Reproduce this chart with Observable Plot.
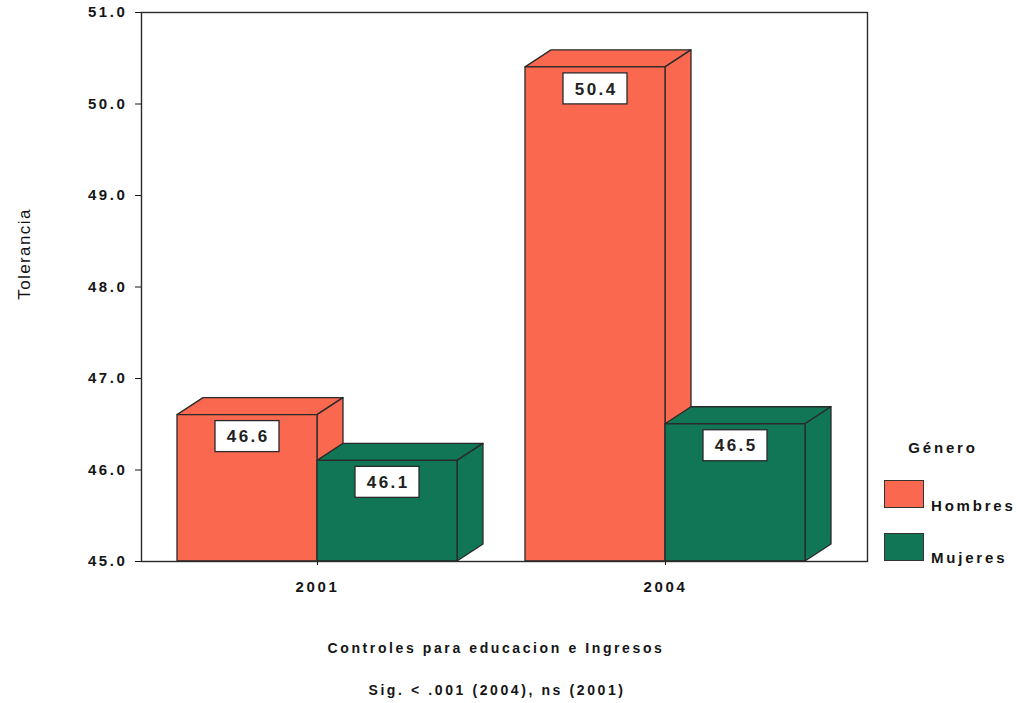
<!DOCTYPE html>
<html><head><meta charset="utf-8">
<script src="https://cdn.jsdelivr.net/npm/d3@7"></script>
<script src="https://cdn.jsdelivr.net/npm/@observablehq/plot@0.6"></script>
<style>
body{margin:0;background:#fff;font-family:"Liberation Sans",Arial,sans-serif;}
#wrap{position:relative;width:1016px;height:703px;overflow:hidden;}
#wrap svg{display:block;}
.abs{position:absolute;white-space:nowrap;color:#151515;}
.cap{font-weight:bold;font-size:14px;letter-spacing:2.6px;transform:translate(-50%,-50%);}
.ytitle{font-size:17px;letter-spacing:1.4px;color:#111;transform:translate(-50%,-50%) rotate(-90deg);}
.leg{font-weight:bold;font-size:15px;letter-spacing:2.8px;}
.sw{position:absolute;width:40px;height:28px;box-sizing:border-box;border:1.3px solid #333;}
</style>
</head><body><div id="wrap"></div>
<script>
const years = ["2001", "2004"];
const genders = ["Hombres", "Mujeres"];
const hombres = [46.6, 50.4];
const mujeres = [46.1, 46.5];
const yTicks = [45, 46, 47, 48, 49, 50, 51];
const colors = ["#f9684f", "#107656"];
const yTitle = "Tolerancia";
const legendTitle = "Género";
const captions = ["Controles para educacion e Ingresos", "Sig. < .001 (2004), ns (2001)"];

const rows = [];
years.forEach((yr, i) => {
  rows.push({year: yr, gender: genders[0], value: hombres[i]});
  rows.push({year: yr, gender: genders[1], value: mujeres[i]});
});
const yBase = yTicks[0];

function bars3d(index, scales, values, dimensions, context, next) {
  const g = d3.create("svg:g");
  const bw = scales.x.bandwidth();
  const hw = bw / 2;
  const DX = 26, DY = 17;
  for (const i of index) {
    const gi = genders.indexOf(rows[i].gender);
    const x0 = values.x[i] + gi * hw, x1 = x0 + hw;
    const yB = values.y1[i], yT = values.y2[i];
    const fill = values.fill[i];
    const s = {stroke: "#2a2a2a", "stroke-width": 1.3, "stroke-linejoin": "round"};
    const poly = (pts) => {
      const p = g.append("polygon").attr("points", pts.map(d => d.join(",")).join(" ")).attr("fill", fill);
      for (const k in s) p.attr(k, s[k]);
    };
    poly([[x0, yT], [x0 + DX, yT - DY], [x1 + DX, yT - DY], [x1, yT]]);
    poly([[x1, yT], [x1 + DX, yT - DY], [x1 + DX, yB - DY], [x1, yB]]);
    poly([[x0, yT], [x1, yT], [x1, yB], [x0, yB]]);
    const cx = (x0 + x1) / 2;
    const bwid = 64, bh = 31, top = yT + 6;
    g.append("rect").attr("x", cx - bwid / 2).attr("y", top).attr("width", bwid).attr("height", bh)
      .attr("fill", "#fff").attr("stroke", "#2a2a2a").attr("stroke-width", 1.3);
    g.append("text").attr("x", cx + 1.2).attr("y", top + bh / 2).attr("dy", "0.36em")
      .attr("text-anchor", "middle").attr("font-size", 17).attr("font-weight", "bold")
      .attr("letter-spacing", "2.4px").attr("fill", "#222").text(rows[i].value.toFixed(1));
  }
  return g.node();
}

const chart = Plot.plot({
  width: 1016,
  height: 610,
  marginLeft: 141,
  marginRight: 149,
  marginTop: 12,
  marginBottom: 49,
  style: {fontFamily: "'Liberation Sans', Arial, sans-serif", fontSize: "15px", fontWeight: "bold", letterSpacing: "2.6px", color: "#151515", background: "transparent"},
  x: {domain: years, paddingInner: 0.194, paddingOuter: 0.1385, align: 0.373, tickSize: 4, tickPadding: 16, label: null},
  y: {domain: [yTicks[0], yTicks[yTicks.length - 1]], ticks: yTicks, tickFormat: ".1f", tickSize: 6, tickPadding: 8, label: null},
  color: {domain: genders, range: colors},
  marks: [
    Plot.barY(rows, {x: "year", y1: yBase, y2: "value", fill: "gender", render: bars3d}),
    Plot.frame({stroke: "#2a2a2a", strokeWidth: 1.4})
  ]
});

const wrap = document.getElementById("wrap");
wrap.appendChild(chart);

function addDiv(cls, text, left, top, extra) {
  const d = document.createElement("div");
  d.className = "abs " + cls;
  d.textContent = text;
  d.style.left = left + "px";
  d.style.top = top + "px";
  if (extra) Object.assign(d.style, extra);
  wrap.appendChild(d);
  return d;
}
addDiv("ytitle", yTitle, 25, 254);
addDiv("cap", captions[0], 496, 648);
addDiv("cap", captions[1], 497, 690);
addDiv("leg", legendTitle, 943, 447, {transform: "translate(-50%,-50%)"});
const swY = [480, 533];
const txY = [505, 557];
genders.forEach((gname, i) => {
  const sw = document.createElement("div");
  sw.className = "sw";
  sw.style.left = "884px";
  sw.style.top = swY[i] + "px";
  sw.style.background = colors[i];
  wrap.appendChild(sw);
  addDiv("leg", gname, 931, txY[i], {transform: "translateY(-50%)"});
});
</script>
</body></html>
